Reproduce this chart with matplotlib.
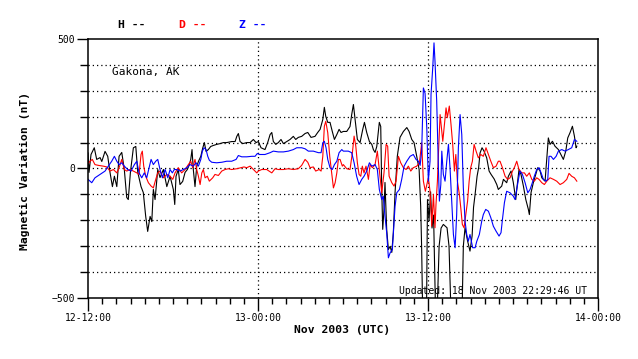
import matplotlib
matplotlib.use("Agg")
import matplotlib.pyplot as plt
from matplotlib.ticker import MultipleLocator

# hours after 12-12:00 UT, values in nT
H_PTS = [(0.00, 60), (0.07, -15), (0.21, 54), (0.44, 80), (0.61, 35), (0.85, 42), (0.97, 27), (1.20, 66),
         (1.39, 47), (1.55, -15), (1.72, -70), (1.86, -30), (2.03, -70), (2.19, 47), (2.38, 62), (2.56, -4),
         (2.73, -112), (2.84, -120), (2.99, -15), (3.20, 80), (3.37, 85), (3.51, -15), (3.74, -70), (3.90, -93),
         (4.07, -185), (4.21, -243), (4.38, -185), (4.50, -205), (4.61, -81), (4.73, -120), (4.92, -4),
         (5.08, -35), (5.32, -4), (5.56, -70), (5.79, -30), (6.02, -81), (6.12, -139), (6.21, -30), (6.37, -4),
         (6.49, -62), (6.68, -50), (6.85, -15), (7.01, -4), (7.15, 15), (7.25, 35), (7.34, 73), (7.43, -4),
         (7.55, -70), (7.67, 8), (7.79, 27), (7.96, 47), (8.10, 80), (8.21, 100), (8.33, 66), (8.49, 73),
         (8.66, 85), (8.85, 89), (9.08, 93), (9.32, 96), (9.55, 100), (9.79, 100), (10.14, 104), (10.38, 104),
         (10.50, 124), (10.61, 135), (10.73, 104), (10.92, 96), (11.20, 100), (11.44, 100), (11.67, 112),
         (11.86, 100), (12.02, 104), (12.21, 80), (12.49, 73), (12.68, 100), (12.85, 131), (12.97, 139),
         (13.08, 104), (13.25, 93), (13.43, 100), (13.62, 112), (13.79, 96), (14.03, 104), (14.26, 112),
         (14.49, 124), (14.66, 112), (14.84, 120), (15.08, 124), (15.32, 135), (15.51, 139), (15.74, 120),
         (16.02, 124), (16.21, 139), (16.38, 151), (16.57, 189), (16.68, 236), (16.78, 201), (16.92, 178),
         (17.08, 178), (17.24, 143), (17.39, 112), (17.56, 131), (17.72, 151), (17.86, 139), (18.02, 143),
         (18.26, 143), (18.49, 162), (18.61, 208), (18.73, 247), (18.85, 189), (19.01, 112), (19.20, 100),
         (19.39, 151), (19.51, 178), (19.67, 139), (19.86, 104), (20.03, 93), (20.14, 73), (20.26, 62),
         (20.38, 85), (20.56, 178), (20.66, 162), (20.73, -81), (20.80, -235), (20.89, -158), (20.96, -54),
         (21.08, -235), (21.20, -313), (21.32, -301), (21.44, -324), (21.55, -247), (21.67, -93), (21.83, 47),
         (22.02, 120), (22.26, 143), (22.50, 158), (22.66, 143), (22.85, 112), (23.01, 100), (23.20, 47),
         (23.37, -4), (23.48, -146), (23.55, -313), (23.62, -560), (23.69, -560), (23.89, -560), (23.96, -120),
         (24.07, -200), (24.18, -90), (24.28, -230), (24.39, -180), (24.53, -560), (24.64, -560), (24.78, -300),
         (24.92, -230), (25.08, -216), (25.34, -229), (25.48, -300), (25.62, -560), (26.40, -560), (26.49, -300),
         (26.61, -229), (26.79, -280), (26.96, -319), (27.11, -260), (27.21, -150), (27.32, -100), (27.46, -30),
         (27.57, 3), (27.67, 60), (27.81, 80), (27.95, 67), (28.14, 41), (28.31, -10), (28.45, -23),
         (28.66, -40), (28.85, -62), (28.96, -81), (29.20, -68), (29.32, -42), (29.55, -55), (29.67, -30),
         (29.86, -10), (30.02, -55), (30.19, -120), (30.26, -81), (30.42, -4), (30.56, -23), (30.73, -68),
         (30.90, -120), (31.08, -158), (31.15, -178), (31.27, -93), (31.43, -55), (31.60, -23), (31.74, 3),
         (31.91, -10), (32.03, -36), (32.26, -49), (32.38, 41), (32.49, 118), (32.61, 93), (32.78, 105),
         (32.96, 86), (33.20, 73), (33.44, 47), (33.55, 35), (33.72, 67), (33.86, 118), (34.02, 138),
         (34.19, 163), (34.33, 125), (34.45, 80), (34.50, 86)]

D_PTS = [(0.00, 19), (0.14, 28), (0.30, 35), (0.49, 15), (0.73, 12), (1.08, 9), (1.32, 6), (1.55, -10),
         (1.79, -4), (2.03, -17), (2.19, 3), (2.38, 35), (2.56, -4), (2.73, -10), (2.96, -4), (3.20, -10),
         (3.44, -17), (3.60, -23), (3.74, 54), (3.83, 67), (3.93, 9), (4.07, -30), (4.26, -55), (4.45, -68),
         (4.61, -75), (4.78, -42), (4.92, -17), (5.08, -10), (5.32, -36), (5.56, -23), (5.79, -30), (5.98, -42),
         (6.14, -17), (6.37, 3), (6.61, -17), (6.85, -4), (7.08, 15), (7.25, 28), (7.39, 3), (7.55, 35),
         (7.67, -4), (7.79, -30), (7.91, -62), (8.03, -17), (8.14, -4), (8.26, -36), (8.42, -30), (8.56, -49),
         (8.80, -36), (8.96, -23), (9.20, -27), (9.44, -10), (9.67, -4), (9.90, -1), (10.14, -4), (10.50, -1),
         (10.78, 3), (11.01, 6), (11.20, 3), (11.44, 9), (11.67, -4), (11.91, -17), (12.02, -10), (12.26, -4),
         (12.61, -4), (12.97, -17), (13.20, -1), (13.43, -4), (13.79, -4), (14.14, -1), (14.49, -4), (14.84, -1),
         (15.08, 12), (15.32, 35), (15.51, 24), (15.67, 3), (15.90, 6), (16.07, -10), (16.31, -4), (16.45, -10),
         (16.57, 47), (16.68, 163), (16.78, 182), (16.92, 138), (17.06, 47), (17.20, -17), (17.32, -75),
         (17.44, -55), (17.56, -17), (17.67, 35), (17.79, 35), (17.95, 9), (18.02, 15), (18.26, -1), (18.49, -4),
         (18.66, 61), (18.78, 125), (18.90, 86), (19.01, 22), (19.13, -23), (19.25, -30), (19.36, 9), (19.48, -17),
         (19.62, 9), (19.79, -42), (19.91, 15), (20.07, 3), (20.26, 15), (20.42, 67), (20.56, -4), (20.73, -94),
         (20.89, -17), (21.04, 93), (21.15, 86), (21.25, -30), (21.44, -55), (21.60, -68), (21.74, -49),
         (21.91, 47), (22.07, 22), (22.26, 3), (22.45, -4), (22.61, 9), (22.78, -10), (22.96, 3), (23.20, 9),
         (23.39, 22), (23.55, 99), (23.67, -49), (23.81, -88), (24.02, -36), (24.14, -88), (24.26, -223),
         (24.38, -100), (24.49, -229), (24.56, -139), (24.66, -49), (24.73, 54), (24.85, 208), (24.92, 170),
         (25.04, 105), (25.13, 157), (25.27, 234), (25.36, 196), (25.50, 241), (25.62, 170), (25.74, 93),
         (25.86, -10), (25.96, 54), (26.07, -49), (26.21, -100), (26.31, -152), (26.42, -216), (26.54, -229),
         (26.66, -178), (26.79, -126), (26.90, -49), (27.01, 3), (27.13, 28), (27.25, 93), (27.39, 67),
         (27.55, 41), (27.72, 54), (27.90, 47), (28.09, 80), (28.26, 54), (28.43, 28), (28.61, 3), (28.80, 9),
         (28.96, 28), (29.08, 28), (29.25, 3), (29.44, -30), (29.62, -42), (29.79, -36), (29.96, -10),
         (30.09, 3), (30.26, 28), (30.42, -4), (30.61, -17), (30.80, -17), (30.96, -30), (31.15, -17),
         (31.32, -42), (31.50, -49), (31.67, -36), (31.83, -42), (32.03, -55), (32.21, -62), (32.38, -49),
         (32.61, -36), (32.85, -42), (33.08, -49), (33.32, -62), (33.55, -55), (33.79, -42), (33.95, -19),
         (34.14, -30), (34.33, -36), (34.50, -49)]

Z_PTS = [(0.00, -42), (0.26, -55), (0.49, -36), (0.85, -23), (1.20, -10), (1.43, 9), (1.67, 28), (1.86, 47),
         (2.03, 28), (2.19, 15), (2.38, 22), (2.56, 9), (2.80, -4), (3.04, -10), (3.27, 15), (3.44, 28),
         (3.60, -17), (3.79, -36), (3.97, -17), (4.14, -36), (4.31, 3), (4.45, 35), (4.61, 15), (4.78, 28),
         (4.92, 35), (5.08, -4), (5.25, -36), (5.44, -4), (5.63, -36), (5.79, -4), (5.95, -17), (6.09, -4),
         (6.26, -4), (6.49, -10), (6.73, -4), (6.97, 3), (7.20, 15), (7.43, 9), (7.62, 22), (7.79, 9),
         (7.96, 35), (8.07, 67), (8.19, 80), (8.33, 73), (8.45, 47), (8.56, 32), (8.73, 24), (9.08, 22),
         (9.44, 24), (9.79, 28), (10.14, 28), (10.45, 35), (10.61, 50), (10.85, 45), (11.20, 45), (11.56, 47),
         (11.79, 47), (11.95, 58), (12.09, 54), (12.49, 54), (12.85, 61), (13.08, 67), (13.43, 64), (13.79, 64),
         (14.14, 67), (14.49, 73), (14.73, 80), (15.08, 80), (15.32, 76), (15.55, 67), (15.90, 67), (16.26, 61),
         (16.45, 61), (16.57, 99), (16.68, 105), (16.80, 80), (16.92, 35), (17.08, 3), (17.24, -4), (17.39, 15),
         (17.56, 28), (17.72, 61), (17.91, 73), (18.02, 67), (18.37, 67), (18.61, 61), (18.78, 22), (18.96, -30),
         (19.13, -62), (19.32, -42), (19.48, -30), (19.67, -10), (19.86, 22), (20.03, 9), (20.26, 15),
         (20.42, -4), (20.56, -81), (20.73, -120), (20.84, -107), (20.96, -184), (21.08, -248), (21.20, -345),
         (21.32, -326), (21.48, -313), (21.67, -146), (21.79, -94), (21.98, -81), (22.14, -42), (22.31, 9),
         (22.50, 28), (22.73, 47), (22.96, 54), (23.15, 35), (23.32, 28), (23.44, 12), (23.55, 67), (23.67, 311),
         (23.79, 290), (23.91, 157), (24.02, -49), (24.14, 28), (24.21, 286), (24.33, 389), (24.42, 485),
         (24.49, 414), (24.61, 260), (24.73, 3), (24.80, -126), (24.90, -62), (24.97, 67), (25.08, -23),
         (25.20, -49), (25.32, 28), (25.44, 93), (25.55, 3), (25.67, -126), (25.79, -255), (25.91, -306),
         (26.02, -178), (26.14, 80), (26.26, 208), (26.38, 131), (26.49, -75), (26.61, -203), (26.73, -255),
         (26.84, -281), (26.96, -255), (27.15, -306), (27.32, -306), (27.44, -281), (27.62, -255), (27.79, -203),
         (27.90, -178), (28.07, -158), (28.26, -165), (28.43, -190), (28.61, -223), (28.80, -242), (29.01, -261),
         (29.15, -248), (29.25, -197), (29.39, -132), (29.55, -88), (29.79, -94), (30.02, -107), (30.14, -120),
         (30.26, -81), (30.38, -42), (30.49, -10), (30.66, -23), (30.85, -55), (31.04, -94), (31.20, -81),
         (31.36, -55), (31.50, -30), (31.67, -4), (31.83, 3), (31.98, -17), (32.14, -42), (32.31, -49),
         (32.45, -42), (32.54, 47), (32.68, 47), (32.85, 35), (33.04, 47), (33.20, 67), (33.44, 73),
         (33.67, 67), (33.90, 73), (34.14, 80), (34.33, 112), (34.50, 105)]

X_TICKS = [0, 12, 24, 36]
X_LABELS = ["12-12:00", "13-00:00", "13-12:00", "14-00:00"]
Y_TICKS = [-500, 0, 500]

FONT = "DejaVu Sans Mono"
plt.rcParams["font.family"] = FONT

fig = plt.figure(figsize=(6.38, 3.59), dpi=100)
ax = fig.add_axes([0.138, 0.170, 0.7994, 0.7214])

for pts, col in [(H_PTS, "black"), (D_PTS, "red"), (Z_PTS, "blue")]:
    t, v = zip(*pts)
    ax.plot(t, v, color=col, lw=0.8)

ax.set_xlim(0, 36)
ax.set_ylim(-500, 500)
ax.set_xticks(X_TICKS)
ax.set_xticklabels(X_LABELS)
ax.set_yticks(Y_TICKS)
ax.xaxis.set_minor_locator(MultipleLocator(1))
ax.yaxis.set_minor_locator(MultipleLocator(100))
ax.tick_params(axis="x", which="major", direction="out", length=9, width=1, labelsize=7, pad=2)
ax.tick_params(axis="x", which="minor", direction="out", length=4.5, width=1)
ax.tick_params(axis="y", which="major", direction="out", length=8, width=1, labelsize=7, pad=1.5)
ax.tick_params(axis="y", which="minor", direction="out", length=5.8, width=1)

# dotted grid at every 100 nT and every 12 h
for y in range(-400, 500, 100):
    ax.axhline(y, color="black", lw=0.9, ls=(0, (1, 2.4)), zorder=0)
for x in [12, 24]:
    ax.axvline(x, color="black", lw=0.9, ls=(0, (1, 2.4)), zorder=0)

for s in ax.spines.values():
    s.set_linewidth(1.1)

ax.text(0.047, 0.873, "Gakona, AK", transform=ax.transAxes, fontsize=8, va="center")
ax.text(0.978, 0.025, "Updated: 18 Nov 2003 22:29:46 UT", transform=ax.transAxes,
        fontsize=7, ha="right", va="center")

fig.text(25 / 638, 1 - 171 / 359, "Magnetic Variation (nT)", rotation=90, fontsize=8.2,
         fontweight="bold", ha="center", va="center")
fig.text(342 / 638, 1 - 330 / 359, "Nov 2003 (UTC)", fontsize=8.2, fontweight="bold",
         ha="center", va="center")

for x0, txt, col in [(118, "H --", "black"), (179, "D --", "red"), (239, "Z --", "blue")]:
    fig.text(x0 / 638, 1 - 25 / 359, txt, color=col, fontsize=8.2, fontweight="bold", va="center")

plt.savefig("out.png", dpi=100)
